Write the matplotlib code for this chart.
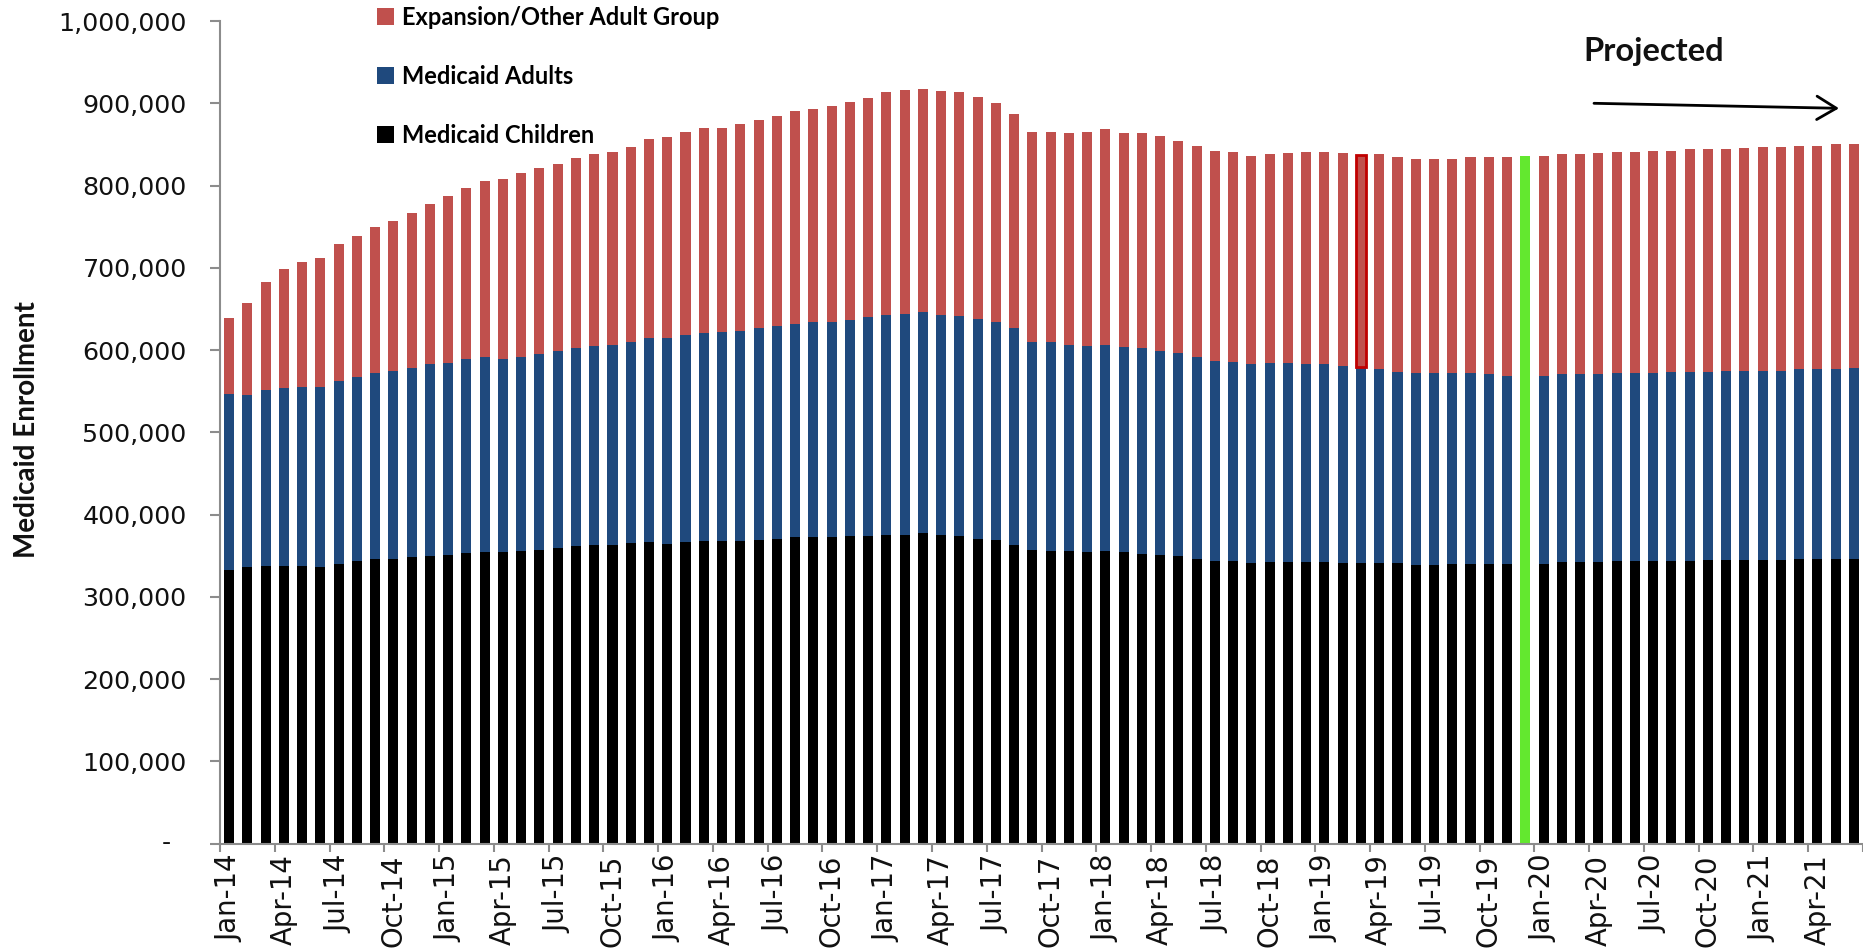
import matplotlib
matplotlib.use("Agg")
import matplotlib.pyplot as plt
import numpy as np
from matplotlib.ticker import FixedLocator, FuncFormatter

# ---------------- data ----------------
month_names = ["Jan", "Feb", "Mar", "Apr", "May", "Jun",
               "Jul", "Aug", "Sep", "Oct", "Nov", "Dec"]
years = ["14", "15", "16", "17", "18", "19", "20", "21"]
months = [f"{m}-{y}" for y in years for m in month_names][:90]   # Jan-14 .. Jun-21

tick_labels = ["Jan-14", "Apr-14", "Jul-14", "Oct-14", "Jan-15", "Apr-15", "Jul-15", "Oct-15",
               "Jan-16", "Apr-16", "Jul-16", "Oct-16", "Jan-17", "Apr-17", "Jul-17", "Oct-17",
               "Jan-18", "Apr-18", "Jul-18", "Oct-18", "Jan-19", "Apr-19", "Jul-19", "Oct-19",
               "Jan-20", "Apr-20", "Jul-20", "Oct-20", "Jan-21", "Apr-21"]

children = [332600, 335900, 337500, 337500, 337500, 335900, 340300, 343500, 346400, 346400,
            348000, 349600, 351200, 352900, 354100, 354100, 355700, 357300, 359000, 361800,
            363400, 363400, 365000, 366200, 364600, 366200, 367900, 367900, 367900, 369100,
            370700, 372300, 372300, 372300, 374000, 374000, 375600, 375600, 377200, 375600,
            374000, 370700, 369100, 363400, 356900, 355700, 355700, 354100, 355700, 354100,
            352500, 350800, 349200, 346400, 343500, 343500, 340700, 341900, 341900, 341900,
            341900, 340700, 340700, 340700, 340700, 339100, 339100, 340300, 340300, 340300,
            340300, 340300, 340300, 341900, 341900, 341900, 343500, 343500, 343500, 343500,
            343500, 344800, 344800, 344800, 344800, 344800, 346400, 346400, 346400, 346400]

adults = [214000, 209100, 213600, 216400, 218000, 219600, 222500, 224200, 225800, 228600,
          230300, 233100, 233100, 235900, 237500, 234700, 235900, 237600, 240300, 240800,
          242000, 243200, 244700, 248100, 249700, 252600, 252500, 253700, 255400, 257400,
          258600, 259900, 261500, 261500, 262600, 265900, 267100, 268700, 268800, 267100,
          267500, 267500, 264700, 263100, 252600, 253800, 250900, 250900, 250900, 249700,
          249700, 248500, 246900, 245200, 243600, 242100, 242000, 242000, 242000, 240800,
          240800, 240400, 239100, 236000, 233100, 233100, 233100, 231900, 231900, 230300,
          228600, 228600, 228600, 228700, 228700, 228700, 228700, 228700, 228700, 230300,
          230300, 229000, 230200, 230200, 230200, 230200, 230300, 230300, 230300, 231900]

expansion = [92900, 112700, 132100, 144300, 151700, 156100, 165900, 171500, 177500, 182000,
             188100, 195400, 202700, 208700, 213700, 219300, 224200, 226600, 226700, 231000,
             232700, 234700, 237300, 242100, 244900, 246500, 249300, 248100, 251300, 253700,
             255800, 258600, 259800, 263100, 264800, 265900, 270800, 272000, 271900, 272400,
             272000, 269200, 265900, 261000, 255800, 255800, 257000, 260300, 261900, 259800,
             261400, 261100, 258600, 256600, 255400, 255300, 253700, 254200, 255800, 258200,
             258200, 258600, 257100, 261400, 261400, 259800, 259800, 259800, 263000, 264600,
             266300, 267500, 267500, 267500, 267500, 269100, 269100, 269100, 270300, 268700,
             270400, 270400, 269200, 270800, 272400, 272400, 271900, 271900, 273600, 272000]

outlined_month = "Mar-19"
green_month = "Dec-19"
y_ticks = [0, 100000, 200000, 300000, 400000, 500000, 600000, 700000, 800000, 900000, 1000000]

# ---------------- styling ----------------
C_CHILD = "#000000"
C_ADULT = "#1F497D"
C_EXP = "#C0504D"
C_GREEN = "#63E82F"
GRAY = "#8C8C8C"
W, H = 1863, 951

fig = plt.figure(figsize=(W / 100, H / 100), dpi=100)
fig.patch.set_facecolor("white")
ax = fig.add_axes([220 / W, 1 - 843.5 / H, 1 - 220 / W, (843.5 - 21) / H])

x = np.arange(len(months))
bw = 0.55
b1 = ax.bar(x, children, bw, color=C_CHILD, label="Medicaid Children", linewidth=0)
b2 = ax.bar(x, adults, bw, bottom=children, color=C_ADULT, label="Medicaid Adults", linewidth=0)
bottom3 = np.array(children) + np.array(adults)
b3 = ax.bar(x, expansion, bw, bottom=bottom3, color=C_EXP,
            label="Expansion/Other Adult Group", linewidth=0)

gi = months.index(green_month)
for bars in (b1, b2, b3):
    bars[gi].set_facecolor(C_GREEN)
oi = months.index(outlined_month)
b3[oi].set_edgecolor("#C00000")
b3[oi].set_linewidth(2.0)

ax.set_xlim(-0.5, len(months) - 0.5)
ax.set_ylim(0, 1000000)

for s in ("top", "right"):
    ax.spines[s].set_visible(False)
for s in ("left", "bottom"):
    ax.spines[s].set_color(GRAY)
    ax.spines[s].set_linewidth(1.5)

# y axis
ax.yaxis.set_major_locator(FixedLocator(y_ticks))
ax.yaxis.set_major_formatter(FuncFormatter(lambda v, p: "" if v == 0 else f"{v:,.0f}"))
ax.tick_params(axis="y", direction="out", length=7, width=1.5, color=GRAY,
               pad=17, labelsize=18.3, labelcolor="#111111")
ax.annotate("-", xy=(0, 0), xycoords=("axes fraction", "data"),
            xytext=(-54, 0), textcoords="offset pixels", ha="center", va="center",
            fontsize=18.3, color="#111111")

# x axis
tick_pos = [months.index(t) for t in tick_labels]
ax.set_xticks(tick_pos)
ax.set_xticklabels(tick_labels, rotation=90, fontsize=19.8, color="#111111")
ax.set_xticks(np.arange(-0.5, len(months), 3), minor=True)
ax.tick_params(axis="x", which="major", length=0, pad=8)
ax.tick_params(axis="x", which="minor", direction="out", length=6, width=1.5, color=GRAY)

# y label
fig.text(27 / W, 1 - 430 / H, "Medicaid Enrollment", rotation=90, ha="center", va="center",
         fontsize=20, fontweight="bold", family="Lato", color="#111111")

# legend
leg = ax.legend(handles=[b3, b2, b1],
                labels=["Expansion/Other Adult Group", "Medicaid Adults", "Medicaid Children"],
                loc="upper left", bbox_to_anchor=(377 / W, 1 - 6 / H),
                bbox_transform=fig.transFigure, frameon=False,
                prop={"family": "Lato", "weight": "bold", "size": 17},
                handlelength=0.7, handleheight=0.7, handletextpad=0.35,
                labelspacing=1.52, borderpad=0, borderaxespad=0)

# projected annotation
fig.text(1654 / W, 1 - 52 / H, "Projected", ha="center", va="center",
         fontsize=23.5, fontweight="bold", family="Lato", color="#111111")
ax.annotate("", xy=(1839, H - 108.3), xycoords="figure pixels",
            xytext=(1594, H - 103.3), textcoords="figure pixels",
            arrowprops=dict(arrowstyle="->,head_length=0.7,head_width=0.42",
                            lw=2, color="black", mutation_scale=20,
                            shrinkA=0, shrinkB=0))

fig.savefig("out.png", dpi=100, facecolor="white")
